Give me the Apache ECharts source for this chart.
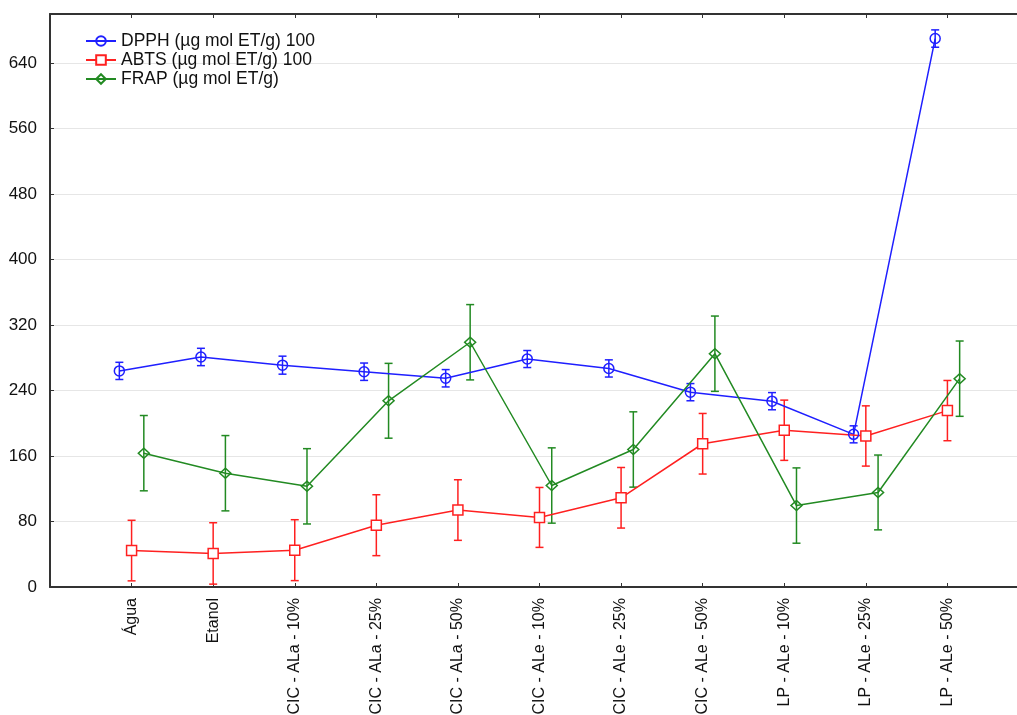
<!DOCTYPE html>
<html>
<head>
<meta charset="utf-8">
<script src="https://cdn.jsdelivr.net/npm/echarts@6/dist/echarts.min.js"></script>
<style>html,body{margin:0;padding:0;background:#fff}#c{width:1017px;height:715px}</style>
</head>
<body>
<div id="c"></div>
<script>
const categories = ['Água','Etanol','CIC - ALa - 10%','CIC - ALa - 25%','CIC - ALa - 50%','CIC - ALe - 10%','CIC - ALe - 25%','CIC - ALe - 50%','LP - ALe - 10%','LP - ALe - 25%','LP - ALe - 50%'];
const dpph    = [264, 281, 271, 263, 255, 278.5, 267, 238, 227, 186.5, 670];
const dpphErr = [10.5, 10.6, 11, 10.6, 10.6, 10.4, 10.5, 10.5, 10.5, 10.4, 10.6];
const abts    = [44.5, 41, 45, 75.5, 94, 85, 109, 175, 191.5, 184.5, 215.5];
const abtsErr = [37, 37.5, 37.2, 37.2, 37, 36.6, 37, 37, 36.8, 36.8, 36.8];
const frap    = [163.5, 139, 123, 227.5, 299, 124, 168, 285, 99.5, 115.5, 254.5];
const frapErr = [46, 46, 46, 45.7, 46, 46, 46, 46, 46, 45.7, 46];
const seriesNames = ['DPPH (µg mol ET/g) 100', 'ABTS (µg mol ET/g) 100', 'FRAP (µg mol ET/g)'];

const colors = ['#1f1fff', '#ff2020', '#228a22'];
const offsets = [-0.15, 0, 0.15];
const symbols = ['circle', 'rect', 'diamond'];
const fills = ['rgba(255,255,255,0)', '#ffffff', 'rgba(255,255,255,0)'];
const FONT = 'Liberation Sans, Arial, sans-serif';

const chart = echarts.init(document.getElementById('c'));
const vals = [dpph, abts, frap];
const errs = [dpphErr, abtsErr, frapErr];

const series = [];
vals.forEach((v, s) => {
  series.push({
    type: 'custom',
    name: seriesNames[s] + ' err',
    z: 1,
    silent: true,
    data: v.map((y, i) => [i + offsets[s], y - errs[s][i], y + errs[s][i]]),
    renderItem: function (params, api) {
      const x = api.value(0);
      const lo = api.coord([x, api.value(1)]);
      const hi = api.coord([x, api.value(2)]);
      const hw = 4;
      const st = { stroke: colors[s], lineWidth: 1.5, fill: null };
      return {
        type: 'group',
        children: [
          { type: 'line', shape: { x1: lo[0], y1: lo[1], x2: hi[0], y2: hi[1] }, style: st },
          { type: 'line', shape: { x1: lo[0] - hw, y1: lo[1], x2: lo[0] + hw, y2: lo[1] }, style: st },
          { type: 'line', shape: { x1: hi[0] - hw, y1: hi[1], x2: hi[0] + hw, y2: hi[1] }, style: st }
        ]
      };
    }
  });
});
vals.forEach((v, s) => {
  series.push({
    type: 'line',
    name: seriesNames[s],
    z: 2,
    data: v.map((y, i) => [i + offsets[s], y]),
    symbol: symbols[s],
    symbolSize: s === 2 ? [11, 10] : 10,
    showAllSymbol: true,
    lineStyle: { color: colors[s], width: 1.5 },
    itemStyle: { color: fills[s], borderColor: colors[s], borderWidth: 1.5 },
    emphasis: { disabled: true },
    animation: false
  });
});

chart.setOption({
  animation: false,
  backgroundColor: '#ffffff',
  grid: { left: 50, top: 14, bottom: 128, right: -12, containLabel: false, outerBoundsMode: 'none' },
  legend: {
    left: 85, top: 32, orient: 'vertical', padding: 0,
    itemWidth: 30, itemHeight: 12, itemGap: 1, 
    data: seriesNames,
    textStyle: { fontSize: 17.5, color: '#111', fontFamily: FONT }
  },
  xAxis: [{
    type: 'value', min: -1, max: 11, interval: 1, position: 'bottom',
    axisLine: { onZero: false, lineStyle: { color: '#333', width: 2 } },
    axisTick: { inside: true, length: 4, lineStyle: { color: '#333' } },
    splitLine: { show: false },
    axisLabel: {
      rotate: 90, margin: 11, fontSize: 16, color: '#111', fontFamily: FONT,
      formatter: v => (Number.isInteger(v) && v >= 0 && v < categories.length) ? categories[v] : ''
    }
  }, {
    type: 'value', min: -1, max: 11, interval: 1, position: 'top',
    axisLine: { show: true, onZero: false, lineStyle: { color: '#333', width: 2 } },
    axisTick: { show: true, inside: true, length: 4, lineStyle: { color: '#333' } },
    axisLabel: { show: false }, splitLine: { show: false }
  }],
  yAxis: {
    type: 'value', min: 0, max: 700, interval: 80,
    axisLine: { show: true, onZero: false, lineStyle: { color: '#333', width: 2 } },
    axisTick: { show: true, inside: true, length: 4, lineStyle: { color: '#333' } },
    splitLine: { show: true, lineStyle: { color: '#e6e6e6', width: 1 } },
    axisLabel: { margin: 13, fontSize: 17, color: '#111', fontFamily: FONT, showMaxLabel: false }
  },
  series: series
});
</script>
</body>
</html>
